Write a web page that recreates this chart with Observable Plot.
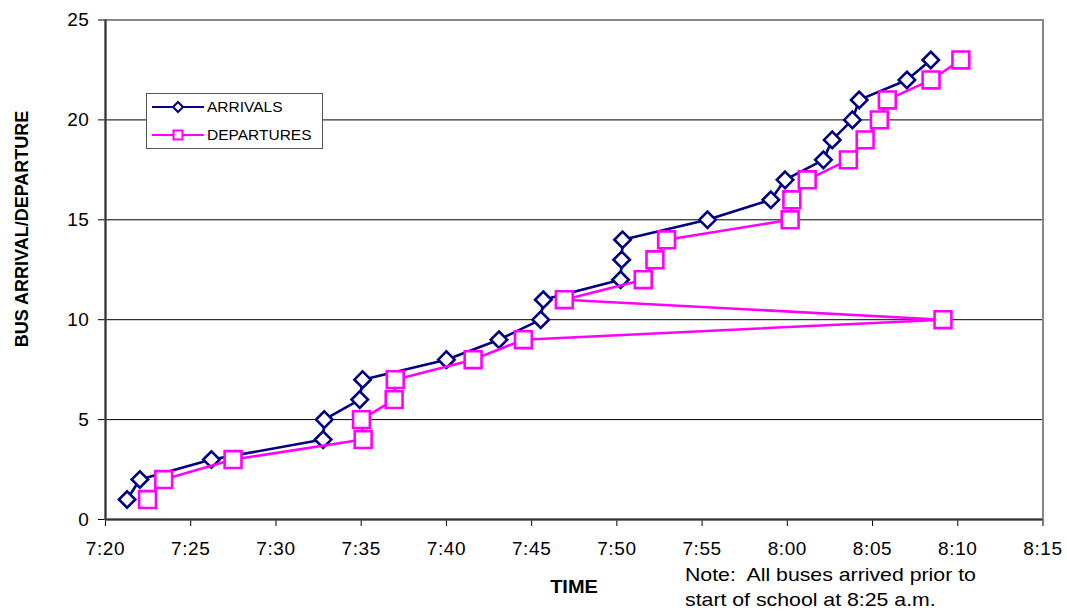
<!DOCTYPE html>
<html>
<head>
<meta charset="utf-8">
<script src="https://cdn.jsdelivr.net/npm/d3@7"></script>
<script src="https://cdn.jsdelivr.net/npm/@observablehq/plot@0.6"></script>
<style>
  body { margin: 0; background: #fff; font-family: "Liberation Sans", Arial, sans-serif; }
  #wrap { position: relative; width: 1067px; height: 612px; overflow: hidden; }
  #wrap > svg { position: absolute; left: 0; top: 0; }
  .abs { position: absolute; white-space: pre; color: #000; }
  #ytitle { left: 22px; top: 229px; font-weight: bold; font-size: 18px; transform: translate(-50%, -50%) rotate(-90deg); }
  #xtitle { left: 574px; top: 587px; font-weight: bold; font-size: 18.5px; transform: translate(-50%, -50%) scaleX(1.08); }
  .note { left: 685px; font-size: 18.5px; transform-origin: 0 50%; transform: translateY(-50%) scaleX(1.15); }
  #legend { left: 146px; top: 93px; width: 177px; height: 56px; border: 1px solid #555; background: #fff; box-sizing: border-box; }
  .lrow { position: absolute; left: 0; height: 20px; display: flex; align-items: center; font-size: 15.5px; }
  .lrow svg { display: block; margin-left: 5px; margin-right: 3px; }
</style>
</head>
<body>
<div id="wrap"></div>
<script>
// ---- data ----
const busNumbers = [1,2,3,4,5,6,7,8,9,10,11,12,13,14,15,16,17,18,19,20,21,22,23];
const arrivalTimes = ["7:21:16","7:22:01","7:26:13","7:32:46","7:32:50","7:34:55","7:35:05","7:40:00",
  "7:43:05","7:45:32","7:45:41","7:50:13","7:50:17","7:50:20","7:55:19","7:59:02","7:59:52",
  "8:02:07","8:02:38","8:03:49","8:04:13","8:07:01","8:08:25"];
const departureTimes = ["7:22:28","7:23:25","7:27:29","7:35:07","7:35:01","7:36:56","7:37:00","7:41:34",
  "7:44:31","8:09:08","7:46:55","7:51:33","7:52:14","7:52:55","8:00:10","8:00:16","8:01:10",
  "8:03:35","8:04:34","8:05:24","8:05:52","8:08:26","8:10:11"];
const xTickLabels = ["7:20","7:25","7:30","7:35","7:40","7:45","7:50","7:55","8:00","8:05","8:10","8:15"];
const yTicks = [0,5,10,15,20,25];
const gridValues = [5,10,15,20];
const seriesNames = ["ARRIVALS","DEPARTURES"];
const seriesColors = ["#000080","#FF00FF"];
const yTitle = "BUS ARRIVAL/DEPARTURE";
const xTitle = "TIME";
const noteLines = ["Note:  All buses arrived prior to", "start of school at 8:25 a.m."];

// ---- build ----
function parseTime(s) {
  const p = s.split(":").map(Number);
  return new Date(Date.UTC(2000, 0, 1, p[0], p[1], p[2] || 0));
}
const arrivals = busNumbers.map((b, i) => ({bus: b, time: parseTime(arrivalTimes[i])}));
const departures = busNumbers.map((b, i) => ({bus: b, time: parseTime(departureTimes[i])}));
const xTicks = xTickLabels.map(parseTime);
const fmt = d3.utcFormat("%-H:%M");

const chart = Plot.plot({
  width: 1067, height: 612,
  marginLeft: 105, marginRight: 24.5, marginTop: 19.5, marginBottom: 93,
  style: {fontFamily: "'Liberation Sans', Arial, sans-serif", fontSize: "19px", color: "#000", background: "transparent", overflow: "visible", letterSpacing: "0.6px"},
  x: {type: "utc", domain: [xTicks[0], xTicks[xTicks.length - 1]], ticks: xTicks, tickFormat: fmt, tickSize: 7, tickPadding: 15, label: null},
  y: {domain: [yTicks[0], yTicks[yTicks.length - 1]], ticks: yTicks, tickSize: 7, tickPadding: 9, label: null},
  marks: [
    Plot.ruleY(gridValues, {stroke: "#000", strokeWidth: 1}),
    Plot.frame({stroke: "#888", strokeWidth: 2}),
    Plot.ruleY([yTicks[0]], {stroke: "#333", strokeWidth: 2}),
    Plot.ruleX([xTicks[0]], {stroke: "#333", strokeWidth: 2}),
    Plot.line(arrivals, {x: "time", y: "bus", stroke: seriesColors[0], strokeWidth: 2.6}),
    Plot.dot(arrivals, {x: "time", y: "bus", symbol: "diamond2", r: 7.4, stroke: seriesColors[0], strokeWidth: 2.6, fill: "white"}),
    Plot.line(departures, {x: "time", y: "bus", stroke: seriesColors[1], strokeWidth: 2.6}),
    Plot.dot(departures, {x: "time", y: "bus", symbol: "square", r: 9.5, stroke: seriesColors[1], strokeWidth: 2.6, fill: "white"})
  ]
});
const wrap = document.getElementById("wrap");
wrap.appendChild(chart);

function addDiv(id, cls, text, extra) {
  const d = document.createElement("div");
  if (id) d.id = id;
  d.className = "abs " + (cls || "");
  d.textContent = text;
  if (extra) Object.assign(d.style, extra);
  wrap.appendChild(d);
  return d;
}
addDiv("ytitle", "", yTitle);
addDiv("xtitle", "", xTitle);
addDiv(null, "note", noteLines[0], {top: "575px"});
addDiv(null, "note", noteLines[1], {top: "600px"});

// legend
const legend = document.createElement("div");
legend.id = "legend"; legend.className = "abs";
const markers = [
  '<polygon points="26,2 31,7 26,12 21,7" fill="white" stroke="COL" stroke-width="2"/>',
  '<rect x="21.5" y="2.5" width="9" height="9" fill="white" stroke="COL" stroke-width="2"/>'
];
seriesNames.forEach((name, i) => {
  const row = document.createElement("div");
  row.className = "lrow";
  row.style.top = (i === 0 ? 2.5 : 31) + "px";
  row.innerHTML = '<svg width="52" height="14"><line x1="0" y1="7" x2="52" y2="7" stroke="' + seriesColors[i] + '" stroke-width="2"/>' +
    markers[i].replace("COL", seriesColors[i]) + '</svg><span>' + name + '</span>';
  legend.appendChild(row);
});
wrap.appendChild(legend);
</script>
</body>
</html>
